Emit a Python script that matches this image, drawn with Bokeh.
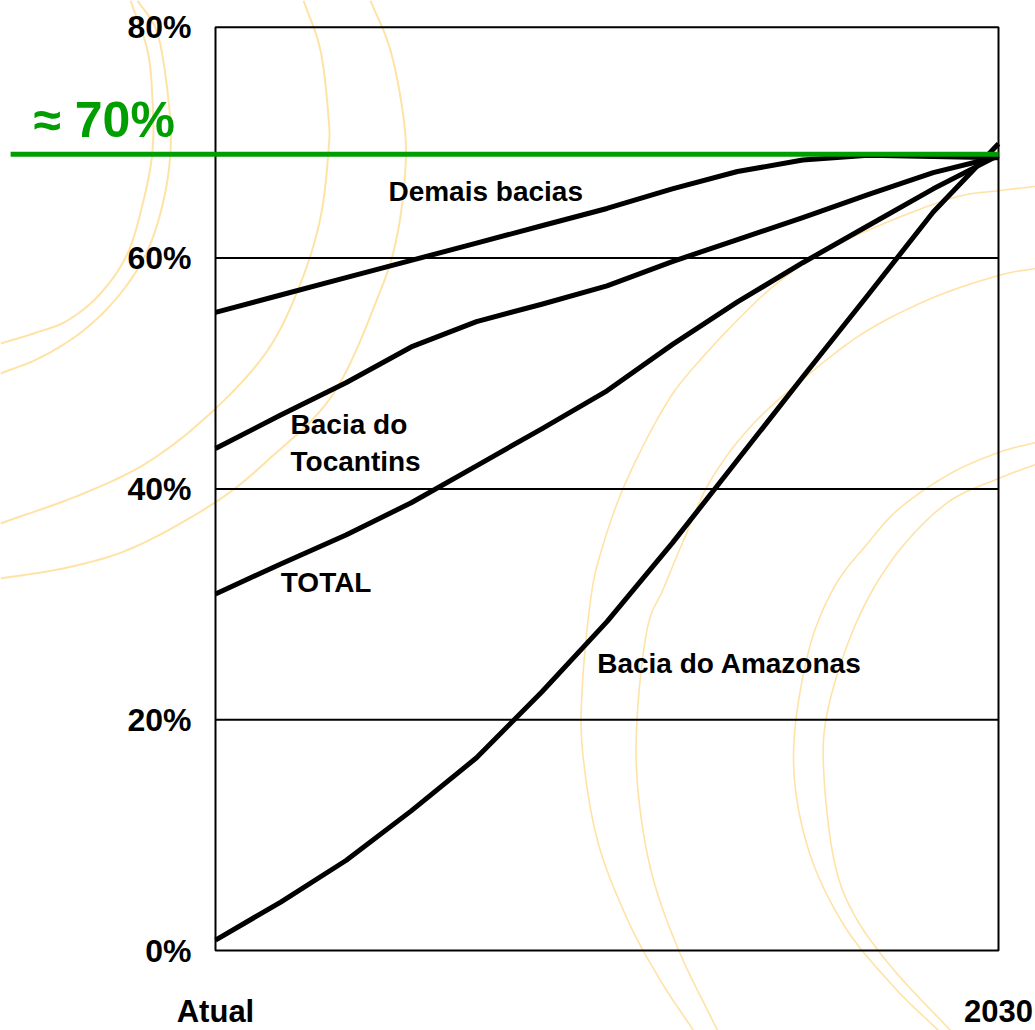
import numpy as np
from bokeh.plotting import figure
from bokeh.models import Range1d, LinearAxis, FixedTicker
from bokeh.core.properties import value
from bokeh.embed import file_html
from bokeh.resources import INLINE

# Steps along the horizon, from today ("Atual") to 2030
steps = list(range(13))
demais_bacias = [55.3, 56.8, 58.3, 59.8, 61.3, 62.8, 64.3, 66.0, 67.5, 68.5, 68.9, 68.8, 68.7]
bacia_tocantins = [43.5, 46.4, 49.2, 52.3, 54.5, 56.0, 57.6, 59.7, 61.6, 63.5, 65.5, 67.4, 68.8]
total = [30.9, 33.5, 36.0, 38.8, 42.0, 45.2, 48.5, 52.5, 56.2, 59.6, 62.8, 66.0, 68.9]
bacia_amazonas = [0.9, 4.2, 7.8, 12.1, 16.7, 22.4, 28.5, 35.3, 42.5, 49.7, 56.8, 64.0, 69.9]
target_level = 69

y_ticks = [0, 20, 40, 60, 80]
y_tick_labels = ["0%", "20%", "40%", "60%", "80%"]
x_ticks = [0, 12]
x_tick_labels = ["Atual", "2030"]
grid_levels = [20, 40, 60]

# Decorative background rings, control points in page pixels (x right, y down)
rings = [
    [(130, 0), (147, 50), (152, 100), (152, 150), (143, 200), (127, 253), (100, 293), (67, 320), (33, 333), (0, 343)],
    [(137, 0), (157, 33), (168, 100), (170, 150), (163, 200), (147, 250), (120, 293), (83, 330), (40, 357), (0, 373)],
    [(303, 0), (320, 50), (328, 117), (328, 150), (320, 217), (300, 283), (267, 350), (213, 410), (150, 460), (83, 493), (0, 523)],
    [(370, 0), (390, 50), (403, 117), (405, 167), (397, 233), (380, 290), (333, 393), (267, 460), (213, 503), (133, 547), (67, 567), (0, 578)],
    [(1035, 186), (1000, 190), (950, 198), (867, 230), (813, 257), (760, 297), (693, 367), (660, 413), (623, 487), (600, 553),
     (590, 600), (582, 683), (582, 750), (597, 840), (627, 919), (660, 980), (693, 1030)],
    [(1035, 268), (998, 275), (933, 297), (867, 330), (813, 370), (753, 423), (710, 480), (683, 540), (663, 588), (647, 627),
     (637, 711), (637, 784), (650, 868), (677, 947), (717, 1030)],
    [(1035, 442), (998, 452), (950, 473), (900, 507), (867, 543), (833, 588), (807, 655), (793, 756), (807, 846), (843, 924),
     (893, 986), (938, 1030)],
    [(1035, 464), (998, 478), (950, 500), (907, 540), (873, 588), (847, 644), (827, 711), (823, 767), (833, 857), (853, 913),
     (893, 969), (950, 1030)],
]


def smooth_ring(points, n=12):
    """Catmull-Rom curve through the ring's control points."""
    pts = np.asarray(points, dtype=float)
    ext = np.vstack([2 * pts[0] - pts[1], pts, 2 * pts[-1] - pts[-2]])
    t = np.linspace(0, 1, n, endpoint=False)[:, None]
    parts = []
    for i in range(1, len(ext) - 2):
        p0, p1, p2, p3 = ext[i - 1], ext[i], ext[i + 1], ext[i + 2]
        parts.append(0.5 * (2 * p1 + (-p0 + p2) * t
                            + (2 * p0 - 5 * p1 + 4 * p2 - p3) * t ** 2
                            + (-p0 + 3 * p1 - 3 * p2 + p3) * t ** 3))
    parts.append(pts[-1:])
    curve = np.vstack(parts)
    return curve[:, 0], curve[:, 1]


BLACK = "#000000"
GREEN = "#009E00"
RING = "#FFE3A6"
SANS = "'Liberation Sans', Arial, sans-serif"

p = figure(
    width=1035, height=1030,
    x_range=Range1d(-3.295, 12.567), y_range=Range1d(-6.93, 82.32),
    x_axis_type=None, y_axis_type=None,
    min_border=0, toolbar_location=None, output_backend="svg",
)
p.outline_line_color = None
p.background_fill_color = "white"
p.border_fill_color = "white"
p.grid.visible = False

p.extra_x_ranges = {"page": Range1d(0, 1035)}
p.extra_y_ranges = {"page": Range1d(1030, 0)}

for k, ring in enumerate(rings):
    xs, ys = smooth_ring(ring)
    p.line(xs, ys, x_range_name="page", y_range_name="page",
           line_color=RING, line_width=2 if k < 4 else 1.6, line_join="round")

# grid and frame
p.segment(x0=[0] * len(grid_levels), y0=grid_levels, x1=[12] * len(grid_levels), y1=grid_levels,
          line_color=BLACK, line_width=2)
p.quad(left=[0], right=[12], bottom=[0], top=[80], fill_color=None,
       line_color=BLACK, line_width=2)

# series
for series in (demais_bacias, bacia_tocantins, total, bacia_amazonas):
    p.line(steps, series, line_color=BLACK, line_width=5, line_join="round")

# target level
p.segment(x0=[-3.14], y0=[target_level], x1=[12], y1=[target_level],
          line_color=GREEN, line_width=5)
p.text(x=[-2.79], y=[72.0], text=["≈ 70%"], text_color=GREEN,
       text_font=value(SANS), text_font_size="50px", text_font_style="bold",
       text_baseline="alphabetic", text_align="left")

# series labels
labels_x = [2.65, 1.15, 1.15, 1.0, 5.85]
labels_y = [65.75, 45.55, 42.35, 31.85, 24.85]
labels_t = ["Demais bacias", "Bacia do", "Tocantins", "TOTAL", "Bacia do Amazonas"]
p.text(x=labels_x, y=labels_y, text=labels_t, text_color=BLACK,
       text_font=value(SANS), text_font_size="28px", text_font_style="bold",
       text_baseline="alphabetic", text_align="left")

# axes
yaxis = LinearAxis(
    fixed_location=0,
    ticker=FixedTicker(ticks=y_ticks),
    major_label_overrides={t: s for t, s in zip(y_ticks, y_tick_labels)},
)
xaxis = LinearAxis(
    fixed_location=0,
    ticker=FixedTicker(ticks=x_ticks),
    major_label_overrides={t: s for t, s in zip(x_ticks, x_tick_labels)},
)
for ax in (yaxis, xaxis):
    ax.axis_line_color = None
    ax.major_tick_line_color = None
    ax.minor_tick_line_color = None
    ax.major_label_text_font = SANS
    ax.major_label_text_font_style = "bold"
    ax.major_label_text_color = BLACK
yaxis.major_label_text_font_size = "32px"
xaxis.major_label_text_font_size = "31px"
yaxis.major_label_standoff = 18
xaxis.major_label_standoff = 37
p.add_layout(yaxis, "left")
p.add_layout(xaxis, "below")

open("out.html", "w").write(file_html(p, INLINE))
